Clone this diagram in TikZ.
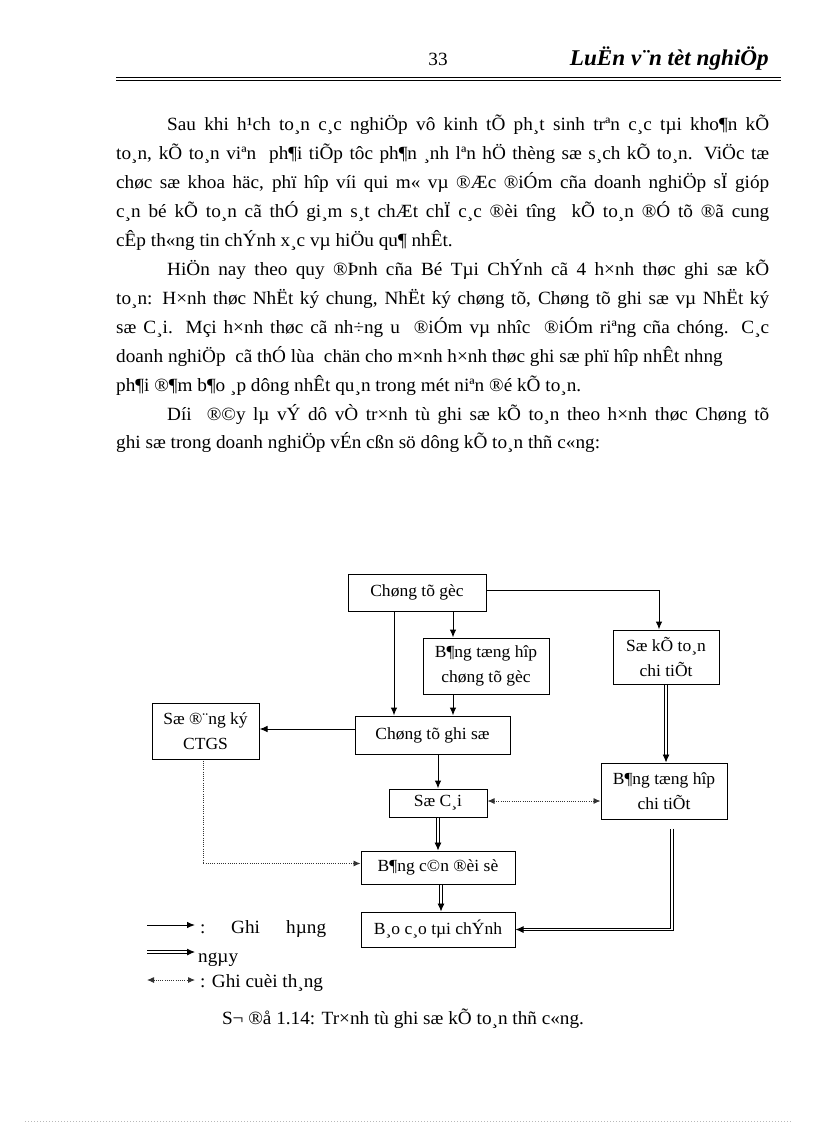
\documentclass[tikz,border=0pt]{standalone}
\usepackage{fontspec}
\setmainfont{Liberation Serif}[FakeStretch=1.03]
\usetikzlibrary{arrows.meta,calc}
\begin{document}
\begin{tikzpicture}[x=1pt,y=-1pt,
  body/.style={font=\fontsize{18.67}{22}\selectfont, inner sep=0pt, anchor=base west},
  box/.style={draw, line width=1pt, inner sep=0pt, align=center, font=\fontsize{17}{25}\selectfont},
  arr/.style={line width=1pt, -{Latex[length=8pt,width=6.5pt]}},
  dbl/.style={double, double distance=1.6pt, line width=0.9pt, -{Latex[length=8pt,width=7pt]}},
  dotln/.style={line width=0.9pt, black!80, dash pattern=on 1pt off 1.2pt},
  dotarr/.style={dotln, -{Latex[length=7pt,width=6pt]}},
  dotboth/.style={dotln, {Latex[length=7pt,width=6pt]}-{Latex[length=7pt,width=6pt]}}
]
\useasboundingbox (0,0) rectangle (816,1123);
\fill[white] (0,0) rectangle (816,1123);

% header
\node[body, anchor=base] (pnum) at (438,66) {33};
\node[font=\fontsize{22.5}{26}\selectfont\bfseries\itshape, inner sep=0pt, anchor=base east] (htitle) at (769,66) {LuËn v¨n tèt nghiÖp};
\coordinate (hl1) at (116,77.5); \coordinate (hr1) at (781,77.5);
\coordinate (hl2) at (116,80.5); \coordinate (hr2) at (781,80.5);
\draw[line width=0.8pt] (hl1) -- (hr1);
\draw[line width=1.3pt] (hl2) -- (hr2);

% body text
\node[body] (t1) at (167,131) {\makebox[602pt][s]{Sau khi h¹ch to¸n c¸c nghiÖp vô kinh tÕ ph¸t sinh trªn c¸c tµi kho¶n kÕ}};
\node[body] (t2) at (116,159.9) {\makebox[653pt][s]{to¸n, kÕ to¸n viªn\ \ ph¶i tiÕp tôc ph¶n ¸nh lªn hÖ thèng sæ s¸ch kÕ to¸n. ViÖc tæ}};
\node[body] (t3) at (116,188.8) {\makebox[653pt][s]{chøc sæ khoa häc, phï hîp víi qui m« vµ ®Æc ®iÓm cña doanh nghiÖp sÏ gióp}};
\node[body] (t4) at (116,217.7) {\makebox[653pt][s]{c¸n bé kÕ to¸n cã thÓ gi¸m s¸t chÆt chÏ c¸c ®èi tîng\ \ kÕ to¸n ®Ó tõ ®ã cung}};
\node[body] (t5) at (116,246.6) {cÊp th«ng tin chÝnh x¸c vµ hiÖu qu¶ nhÊt.};
\node[body] (t6) at (167,275.5) {\makebox[602pt][s]{HiÖn nay theo quy ®Þnh cña Bé Tµi ChÝnh cã 4 h×nh thøc ghi sæ kÕ}};
\node[body] (t7) at (116,304.4) {\makebox[653pt][s]{to¸n: H×nh thøc NhËt ký chung, NhËt ký chøng tõ, Chøng tõ ghi sæ vµ NhËt ký}};
\node[body] (t8) at (116,333.3) {\makebox[653pt][s]{sæ C¸i. Mçi h×nh thøc cã nh÷ng u\ \ ®iÓm vµ nhîc\ \ ®iÓm riªng cña chóng. C¸c}};
\node[body] (t9) at (116,362.2) {doanh nghiÖp\ \ cã thÓ lùa\ \ chän cho m×nh h×nh thøc ghi sæ phï hîp nhÊt nhng};
\node[body] (t10) at (116,391.1) {ph¶i ®¶m b¶o ¸p dông nhÊt qu¸n trong mét niªn ®é kÕ to¸n.};
\node[body] (t11) at (167,420) {\makebox[602pt][s]{Díi\ \ ®©y lµ vÝ dô vÒ tr×nh tù ghi sæ kÕ to¸n theo h×nh thøc Chøng tõ}};
\node[body] (t12) at (116,448.9) {ghi sæ trong doanh nghiÖp vÉn cßn sö dông kÕ to¸n thñ c«ng:};

% diagram boxes
\node[box, minimum width=138pt, minimum height=37pt] (goc) at (417,592.5) {Chøng tõ gèc};
\node[box, minimum width=126pt, minimum height=56pt] (thgoc) at (486,666) {B¶ng tæng hîp\\chøng tõ gèc};
\node[box, minimum width=106pt, minimum height=54pt] (sktct) at (666,657) {Sæ kÕ to¸n\\chi tiÕt};
\node[box, minimum width=107pt, minimum height=56pt] (dk) at (205.5,731) {Sæ ®¨ng ký\\CTGS};
\node[box, minimum width=155pt, minimum height=38pt] (ctgs) at (432.5,735) {Chøng tõ ghi sæ};
\node[box, minimum width=98pt, minimum height=28pt] (cai) at (438,803) {Sæ C¸i};
\node[box, minimum width=126pt, minimum height=56pt] (thct) at (664,791) {B¶ng tæng hîp\\chi tiÕt};
\node[box, minimum width=154pt, minimum height=33pt] (cdoi) at (438,867.5) {B¶ng c©n ®èi sè};
\node[box, minimum width=154pt, minimum height=35pt] (bctc) at (438,929.5) {B¸o c¸o tµi chÝnh};

% connectors
\coordinate (g0) at ([yshift=2.5pt]goc.east);
\coordinate (g1) at ([xshift=-7pt]sktct.north);
\draw[arr] (g0) -| (g1);
\coordinate (g2) at ([xshift=-23pt]goc.south);
\draw[arr] (g2) -- (g2 |- ctgs.north);
\coordinate (g3) at ([xshift=36pt]goc.south);
\draw[arr] (g3) -- (g3 |- thgoc.north);
\draw[arr] (g3 |- thgoc.south) -- (g3 |- ctgs.north);
\coordinate (c3) at ([yshift=6pt]ctgs.west);
\draw[arr] (c3) -- (c3 -| dk.east);
\draw[arr] (ctgs.south -| cai.north) -- (cai.north);
\coordinate (c4) at ([yshift=2pt]cai.east);
\draw[dotboth] (c4) -- (c4 -| thct.west);
\draw[dbl] (sktct.south) -- (sktct.south |- thct.north);
\draw[dbl] (cai.south) -- (cai.south |- cdoi.north);
\coordinate (c7) at ([xshift=3pt]cdoi.south);
\draw[dbl] (c7) -- (c7 |- bctc.north);
\coordinate (c5) at ([xshift=8pt,yshift=-9pt]thct.south);
\draw[dbl] (c5) |- (bctc.east);
\coordinate (c6) at ([xshift=-2.5pt,yshift=-1pt]dk.south);
\coordinate (c8) at ([yshift=4pt]cdoi.west);
\draw[dotarr] (c6) |- (c8);

% legend
\coordinate (la1) at (147,925); \coordinate (la2) at (195,925);
\coordinate (lb1) at (147,952); \coordinate (lb2) at (195,952);
\coordinate (lc1) at (147,980); \coordinate (lc2) at (195,980);
\draw[arr] (la1) -- (la2);
\draw[dbl] (lb1) -- (lb2);
\draw[dotboth] (lc1) -- (lc2);
\node[body] (lg1) at (200,933) {:};
\node[body] (lg2) at (231,933) {Ghi};
\node[body] (lg3) at (286,933) {hµng};
\node[body] (lg4) at (198,962) {ngµy};
\node[body] (lg5) at (200,987) {: Ghi cuèi th¸ng};

% caption
\node[body, anchor=base] (cap) at (403,1024) {S¬ ®å 1.14: Tr×nh tù ghi sæ kÕ to¸n thñ c«ng.};

% page border dots
\coordinate (bd1) at (25,1121.5); \coordinate (bd2) at (791,1121.5);
\draw[gray!55, line width=0.7pt, dash pattern=on 1pt off 2pt] (bd1) -- (bd2);
\end{tikzpicture}
\end{document}
